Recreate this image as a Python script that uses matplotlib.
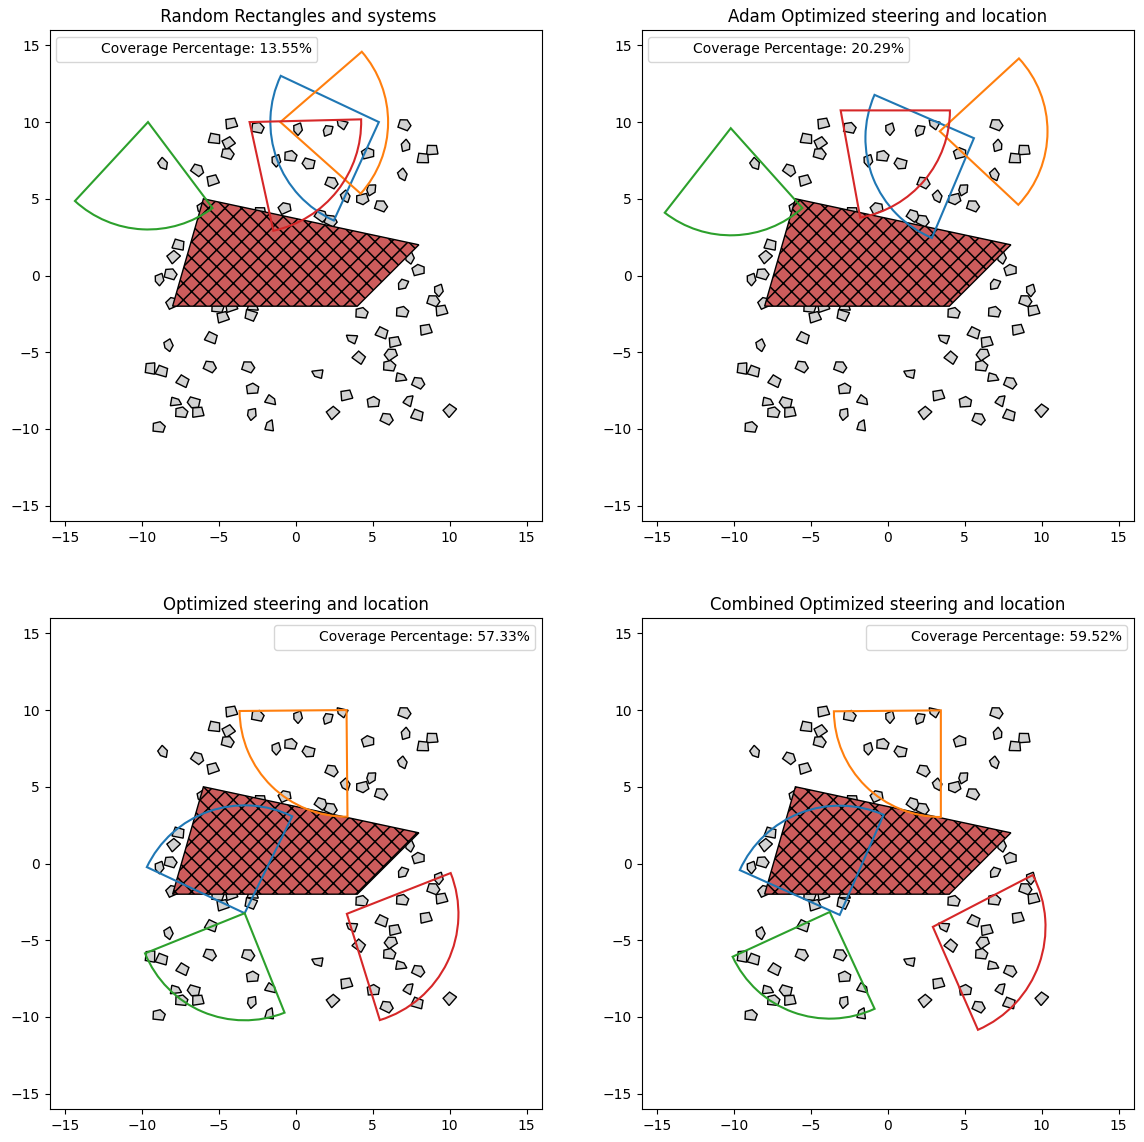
import numpy as np
import matplotlib
matplotlib.use('Agg')
import matplotlib.pyplot as plt
from matplotlib.patches import Polygon, Wedge, Patch

W, H = 1144, 1142

plt.rcParams['hatch.linewidth'] = 1.1

titles = [' Random Rectangles and systems', 'Adam Optimized steering and location',
          'Optimized steering and location', 'Combined Optimized steering and location']
coverage = [13.55, 20.29, 57.33, 59.52]
legend_locs = ['upper left', 'upper left', 'upper right', 'upper right']

# target region
target_x = [-6, 8, 4, -8]
target_y = [5, 2, -2, -2]

# obstacles: centre, outline type, turn in degrees
rock_x = [-4.18, -2.49, 0.15, 2.10, 3.01, -5.27, -4.36, -4.44, 7.05, 7.13, 8.87, 8.28, 6.94, 4.68, -0.35,
          -1.26, 0.85, -8.63, -6.40, -5.38, 2.32, 4.92, 3.23, 4.34, 5.53, -0.72, -2.30, -6.10, 1.63, 2.26,
          -7.61, -7.93, -8.15, -8.85, 7.41, 7.96, 6.98, 9.30, 8.93, 9.48, -8.02, -5.09, -4.18, -2.80, -4.73,
          -2.93, 4.27, 6.91, 8.46, 5.61, 3.66, 6.44, -5.48, -8.26, 6.18, 4.12, 6.07, -5.59, -3.10, -9.43,
          -8.69, 1.45, 6.81, 7.95, -7.33, -2.82, 3.30, -1.63, -7.83, -6.61, 7.30, 5.03, -7.44, -6.35, -2.84,
          2.43, 7.91, 10.02, 5.90, -1.73, -8.91]
rock_y = [9.90, 9.61, 9.57, 9.46, 9.83, 8.90, 8.64, 7.92, 9.81, 8.44, 8.16, 7.62, 6.60, 7.95, 7.77,
          7.51, 7.30, 7.30, 6.86, 6.19, 6.04, 5.61, 5.17, 5.00, 4.52, 4.37, 4.10, 4.40, 3.89, 3.56,
          1.98, 1.22, 0.08, -0.23, 1.18, 0.34, -0.57, -0.94, -1.66, -2.29, -1.81, -2.09, -2.03, -2.00, -2.72,
          -2.57, -2.46, -2.39, -3.54, -3.76, -4.15, -4.34, -4.08, -4.52, -5.15, -5.37, -5.91, -5.95, -5.97, -6.04,
          -6.26, -6.43, -6.62, -7.01, -6.91, -7.40, -7.82, -8.10, -8.21, -8.27, -8.16, -8.27, -8.94, -8.92, -9.01,
          -8.94, -9.12, -8.79, -9.35, -9.81, -9.90]
rock_shape = [1, 0, 2, 2, 3, 1, 1, 0, 0, 2, 1, 1, 2, 0, 0,
              2, 0, 2, 0, 1, 0, 2, 2, 0, 0, 0, 1, 2, 0, 0,
              1, 1, 0, 2, 2, 0, 2, 2, 0, 1, 0, 0, 1, 3, 1,
              1, 0, 0, 1, 1, 3, 1, 1, 2, 0, 1, 0, 0, 0, 1,
              1, 3, 3, 0, 1, 0, 1, 3, 3, 0, 3, 0, 0, 1, 2,
              1, 1, 1, 0, 3, 0]
rock_angle = [10, -5, 10, -20, 170, -10, 30, -10, -15, 185, 0, -5, 30, 20, 0,
              10, 170, 40, -30, 15, -20, -10, 30, 200, -15, 30, 0, 20, -30, -20,
              -15, 40, -10, 10, 20, 20, -30, 10, -15, 10, 30, 0, 15, 0, 15,
              160, 0, 0, 10, -25, 180, 10, -25, 20, 40, -40, 0, -20, -15, 85,
              -20, 190, 10, -20, -30, 10, 10, -10, 10, 170, 80, 10, 0, 5, 0,
              40, -20, 45, -20, 100, 0]

# sensor sectors per panel: apex x, apex y, radius, start and end angle
sector_colors = ['tab:blue', 'tab:orange', 'tab:green', 'tab:red']
sector_x = [[5.4, -1.0, -9.6, -3.0], [5.6, 3.38, -10.2, -3.06],
            [-3.32, 3.3, -3.32, 3.32], [-3.12, 3.45, -3.77, 2.93]]
sector_y = [[10.0, 10.0, 10.0, 10.0], [8.95, 9.4, 9.6, 10.76],
            [-3.24, 10.0, -3.24, -3.28], [-3.35, 9.98, -3.16, -4.13]]
sector_r = [[7.05, 7.0, 7.0, 7.25], [7.05, 7.0, 6.98, 7.1],
            [7.03, 6.95, 6.98, 7.25], [7.12, 6.95, 6.95, 7.32]]
sector_start = [[154.7, -41.8, 227.3, -77.7], [156.4, -43.2, 232.1, -79.7],
                [63.9, 180.5, 202, -72.8], [66.4, 180.5, 204.8, -66.4]]
sector_end = [[245.5, 40.9, 306.8, 1.4], [247.2, 42.7, 311.8, 0],
              [154.7, 270.5, 291.8, 21.5], [155.8, 270, 294.8, 27.5]]

# outlines of the obstacle types
outlines = [
    [(-0.36, -0.24), (0.29, -0.31), (0.43, 0.07), (0.10, 0.37), (-0.34, 0.26)],
    [(-0.37, -0.29), (0.37, -0.24), (0.27, 0.31), (-0.31, 0.32)],
    [(-0.08, -0.44), (0.26, -0.14), (0.22, 0.34), (-0.24, 0.24), (-0.29, -0.10)],
    [(-0.36, -0.22), (0.37, -0.26), (0.24, 0.10), (-0.17, 0.31)],
]

# pixel boxes of the four axes (left, top)
ax_left = [49.5, 641.5, 49.5, 641.5]
ax_top = [30, 30, 618, 618]
ax_size_x, ax_size_y = 492.5, 491

fig = plt.figure(figsize=(W / 100, H / 100), dpi=100)


def draw_rock(ax, i):
    a = np.radians(rock_angle[i])
    pts = np.array(outlines[rock_shape[i]])
    xs = rock_x[i] + pts[:, 0] * np.cos(a) - pts[:, 1] * np.sin(a)
    ys = rock_y[i] + pts[:, 0] * np.sin(a) + pts[:, 1] * np.cos(a)
    ax.add_patch(Polygon(np.column_stack([xs, ys]), closed=True, facecolor='lightgray',
                         edgecolor='black', linewidth=1, zorder=1))


for k in range(4):
    ax = fig.add_axes([ax_left[k] / W, 1 - (ax_top[k] + ax_size_y) / H, ax_size_x / W, ax_size_y / H])
    for i in range(len(rock_x)):
        draw_rock(ax, i)
    ax.add_patch(Polygon(np.column_stack([target_x, target_y]), closed=True, facecolor='indianred',
                         edgecolor='black', hatch='xx', linewidth=1, zorder=2))
    for s in range(4):
        ax.add_patch(Wedge((sector_x[k][s], sector_y[k][s]), sector_r[k][s],
                           sector_start[k][s], sector_end[k][s], fill=False,
                           edgecolor=sector_colors[s], linewidth=1.5, zorder=3))
    ax.set_xlim(-16, 16)
    ax.set_ylim(-16, 16)
    ax.set_xticks(range(-15, 16, 5))
    ax.set_yticks(range(-15, 16, 5))
    ax.set_title(titles[k])
    blank = Patch(facecolor='none', edgecolor='none')
    ax.legend([blank], [f'Coverage Percentage: {coverage[k]:.2f}%'], loc=legend_locs[k])

fig.savefig('out.png', dpi=100)
